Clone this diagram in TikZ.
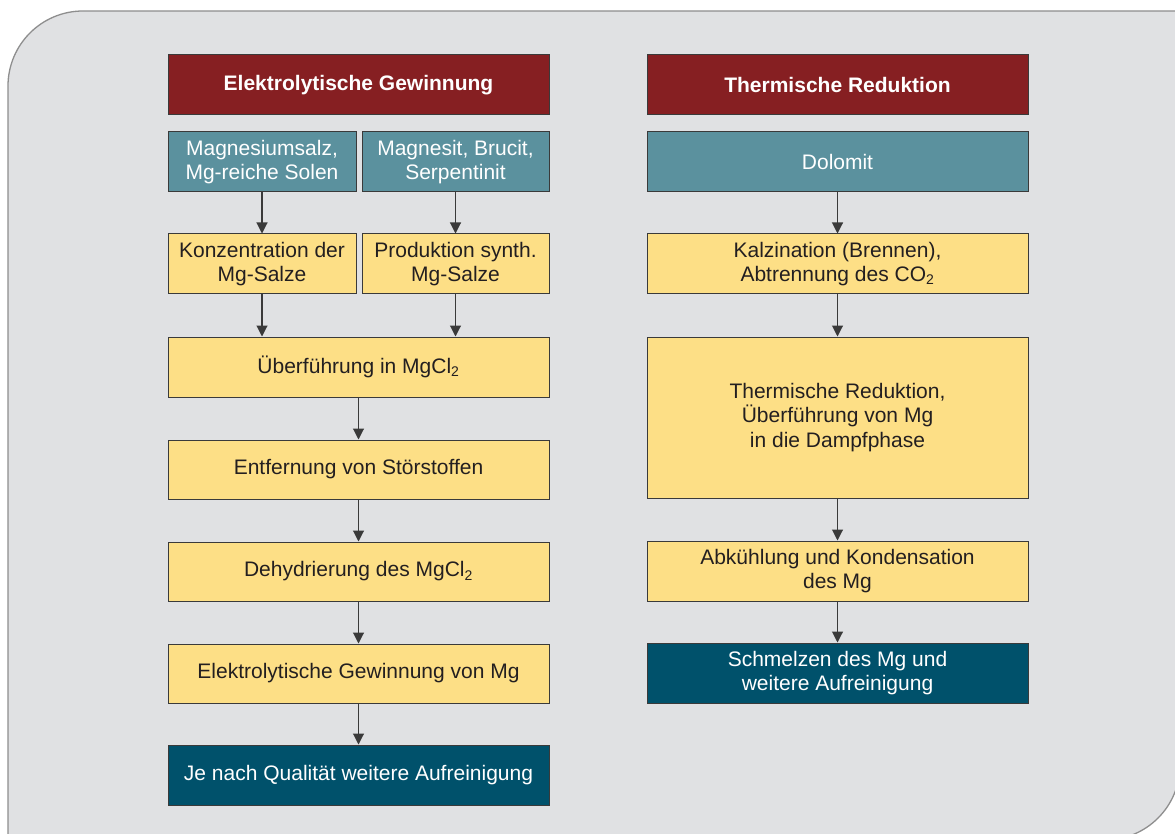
\documentclass[tikz,border=0pt]{standalone}
\usepackage{fontspec}
\setmainfont{Liberation Sans}
\usetikzlibrary{arrows.meta}
\definecolor{bgfill}{HTML}{E0E1E3}
\definecolor{bgline}{HTML}{8E8E8E}
\definecolor{hdred}{HTML}{861F22}
\definecolor{tealbox}{HTML}{5B919E}
\definecolor{yelbox}{HTML}{FDDF86}
\definecolor{darkteal}{HTML}{00516B}
\definecolor{edge}{HTML}{3A3A3A}
\definecolor{txt}{HTML}{231F20}
\newcommand{\subtwo}{\textsubscript{\fontsize{14}{14}\selectfont 2}}
\tikzset{
  boxbase/.style={draw=edge, line width=1pt, align=center, inner sep=0pt, minimum height=60pt},
  hdbox/.style={boxbase, fill=hdred, text=white, font=\fontsize{21}{24.5}\selectfont\bfseries},
  srcbox/.style={boxbase, fill=tealbox, text=white},
  stepbox/.style={boxbase, fill=yelbox, text=txt},
  endbox/.style={boxbase, fill=darkteal, text=white},
  conn/.style={draw=edge, line width=1.1pt, -{Triangle[width=11pt,length=11pt]}}
}
\begin{document}
\begin{tikzpicture}[x=1pt,y=-1pt,font=\fontsize{21}{24.5}\selectfont]
\useasboundingbox (0,0) rectangle (1175,834);
\begin{scope}
\clip (0,0) rectangle (1175,834);
\draw[fill=bgfill, draw=bgline, line width=1.3pt]
  (8,850) -- (8,86) arc[start angle=180, end angle=270, radius=75]
  -- (1180,11) -- (1180,765) arc[start angle=0, end angle=90, radius=75]
  -- (8,840) -- cycle;
\end{scope}
% left column
\node[hdbox, minimum width=381pt] (h1) at (358.5,85) {Elektrolytische Gewinnung};
\node[srcbox, minimum width=188pt] (t1) at (262,162) {Magnesiumsalz,\\Mg-reiche Solen};
\node[srcbox, minimum width=187pt] (t2) at (455.5,162) {Magnesit, Brucit,\\Serpentinit};
\node[stepbox, minimum width=188pt] (k1) at (262,264) {Konzentration der\\Mg-Salze};
\node[stepbox, minimum width=187pt] (k2) at (455.5,264) {Produktion synth.\\Mg-Salze};
\node[stepbox, minimum width=381pt] (u) at (358.5,367) {Überführung in MgCl\subtwo};
\node[stepbox, minimum width=381pt, minimum height=59pt] (e) at (358.5,469.5) {Entfernung von Störstoffen};
\node[stepbox, minimum width=381pt, minimum height=59pt] (d) at (358.5,571.5) {Dehydrierung des MgCl\subtwo};
\node[stepbox, minimum width=381pt, minimum height=59pt] (g) at (358.5,673.5) {Elektrolytische Gewinnung von Mg};
\node[endbox, minimum width=381pt] (j) at (358.5,775) {Je nach Qualität weitere Aufreinigung};
% right column
\node[hdbox, minimum width=381pt] (h2) at (837.5,85) {Thermische Reduktion};
\node[srcbox, minimum width=381pt] (dol) at (837.5,162) {Dolomit};
\node[stepbox, minimum width=381pt] (kal) at (837.5,264) {Kalzination (Brennen),\\Abtrennung des CO\subtwo};
\node[stepbox, minimum width=381pt, minimum height=161pt] (thr) at (837.5,417.5) {Thermische Reduktion,\\Überführung von Mg\\in die Dampfphase};
\node[stepbox, minimum width=381pt] (abk) at (837.5,571) {Abkühlung und Kondensation\\des Mg};
\node[endbox, minimum width=381pt] (sch) at (837.5,673) {Schmelzen des Mg und\\weitere Aufreinigung};
% connectors
\draw[conn] (t1) -- (k1);
\draw[conn] (t2) -- (k2);
\draw[conn] (k1.south) -- (k1.south |- u.north);
\draw[conn] (k2.south) -- (k2.south |- u.north);
\draw[conn] (u) -- (e);
\draw[conn] (e) -- (d);
\draw[conn] (d) -- (g);
\draw[conn] (g) -- (j);
\draw[conn] (dol) -- (kal);
\draw[conn] (kal) -- (thr);
\draw[conn] (thr) -- (abk);
\draw[conn] (abk) -- (sch);
\end{tikzpicture}
\end{document}
